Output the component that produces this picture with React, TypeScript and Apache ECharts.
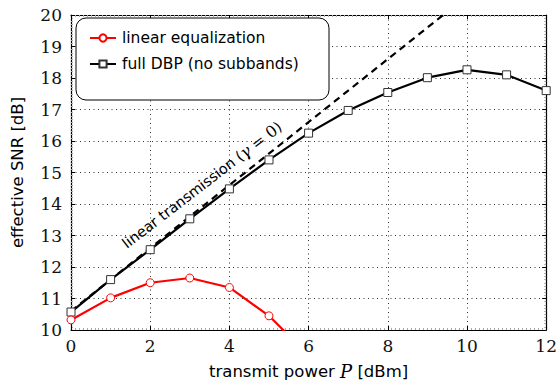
import React, { useEffect, useRef } from "react";
import * as echarts from "echarts";

const powerDBP = [0, 1, 2, 3, 4, 5, 6, 7, 8, 9, 10, 11, 12];
const snrDBP = [10.57, 11.6, 12.55, 13.53, 14.48, 15.4, 16.25, 16.97, 17.54, 18.01, 18.26, 18.1, 17.6];
const powerLin = [0, 1, 2, 3, 4, 5, 6];
const snrLin = [10.32, 11.02, 11.5, 11.65, 11.35, 10.45, 9.2];
const powerTx = [0, 10];
const snrTx = [10.6, 20.6];
const seriesNames = ["linear equalization", "full DBP (no subbands)", "linear transmission"];

const SANS = "DejaVu Sans";
const SERIF = "DejaVu Serif";

export default function App() {
  const ref = useRef<HTMLDivElement>(null);
  useEffect(() => {
    if (!ref.current) return;
    const chart = echarts.init(ref.current, null, { renderer: "svg" });
    const minor = { show: true, splitNumber: 0, length: 2, lineStyle: { color: "#aaa", width: 1 } };
    const baseAxis = {
      type: "value" as const,
      axisLine: { show: true, onZero: false, lineStyle: { color: "#000", width: 1.2 } },
      axisTick: { show: true, inside: true, length: 4, lineStyle: { color: "#000" } },
    };
    const tickFont = { fontFamily: SERIF, fontSize: 17, color: "#111" };
    chart.setOption({
      animation: false,
      backgroundColor: "#fff",
      grid: { left: 71, right: 13, top: 15, bottom: 53, show: false },
      legend: {
        data: [seriesNames[0], seriesNames[1]],
        orient: "vertical",
        left: 84,
        top: 25,
        itemWidth: 26,
        itemHeight: 9,
        itemGap: 10,
        z: 20,
        textStyle: { fontFamily: SANS, fontSize: 15.5, color: "#000", padding: [0, 0, 0, 1] },
      },
      graphic: [
        {
          type: "rect",
          z: 10,
          shape: { x: 76, y: 18, width: 253, height: 82, r: 10 },
          style: { fill: "#fff", stroke: "#000", lineWidth: 1 },
        },
        {
          type: "text",
          z: 10,
          x: 202,
          y: 185,
          rotation: 0.656,
          style: {
            text: "linear transmission ({g|γ} {m|= 0})",
            fontFamily: SANS,
            fontSize: 14.5,
            fill: "#000",
            align: "center",
            verticalAlign: "middle",
            rich: {
              g: { fontFamily: SERIF, fontStyle: "italic", fontSize: 16, fill: "#000" },
              m: { fontFamily: SERIF, fontSize: 16, fill: "#000" },
            },
          },
        },
      ],
      xAxis: [
        {
          ...baseAxis,
          min: 0,
          max: 12,
          interval: 2,
          name: "transmit power {i|P} [dBm]",
          nameLocation: "middle",
          nameGap: 32,
          nameTextStyle: {
            fontFamily: SANS,
            fontSize: 16.5,
            color: "#000",
            rich: { i: { fontFamily: SERIF, fontStyle: "italic", fontSize: 18, color: "#000" } },
          },
          axisLabel: { ...tickFont, margin: 7 },
          splitLine: { show: true, lineStyle: { color: "#333", type: [1, 3.5], width: 1 } },
          minorTick: { ...minor, splitNumber: 20 },
        },
        {
          ...baseAxis,
          position: "top",
          min: 0,
          max: 12,
          interval: 2,
          axisLabel: { show: false },
          splitLine: { show: false },
          minorTick: { ...minor, splitNumber: 20 },
        },
      ],
      yAxis: [
        {
          ...baseAxis,
          min: 10,
          max: 20,
          interval: 1,
          name: "effective SNR [dB]",
          nameLocation: "middle",
          nameGap: 45,
          nameTextStyle: { fontFamily: SANS, fontSize: 16.5, color: "#000" },
          axisLabel: { ...tickFont, margin: 9 },
          splitLine: { show: true, lineStyle: { color: "#333", type: [1, 3.5], width: 1 } },
          minorTick: { ...minor, splitNumber: 10 },
        },
        {
          ...baseAxis,
          position: "right",
          min: 10,
          max: 20,
          interval: 1,
          axisLabel: { show: false },
          splitLine: { show: false },
          minorTick: { ...minor, splitNumber: 10 },
        },
      ],
      series: [
        {
          name: seriesNames[2],
          type: "line",
          data: powerTx.map((p, i) => [p, snrTx[i]]),
          showSymbol: false,
          symbol: "none",
          lineStyle: { color: "#000", width: 2.2, type: [7, 5] },
          itemStyle: { color: "#000" },
          z: 3,
        },
        {
          name: seriesNames[1],
          type: "line",
          data: powerDBP.map((p, i) => [p, snrDBP[i]]),
          symbol: "rect",
          symbolSize: 8,
          lineStyle: { color: "#000", width: 2.2 },
          itemStyle: { color: "#fff", borderColor: "#333", borderWidth: 1 },
          z: 4,
        },
        {
          name: seriesNames[0],
          type: "line",
          data: powerLin.map((p, i) => [p, snrLin[i]]),
          symbol: "circle",
          symbolSize: 8,
          lineStyle: { color: "#f00", width: 2.2 },
          itemStyle: { color: "#fff", borderColor: "#f00", borderWidth: 1 },
          z: 5,
        },
      ],
    });
    return () => chart.dispose();
  }, []);
  return <div ref={ref} style={{ width: 560, height: 385, position: "absolute", left: 0, top: 0 }} />;
}
